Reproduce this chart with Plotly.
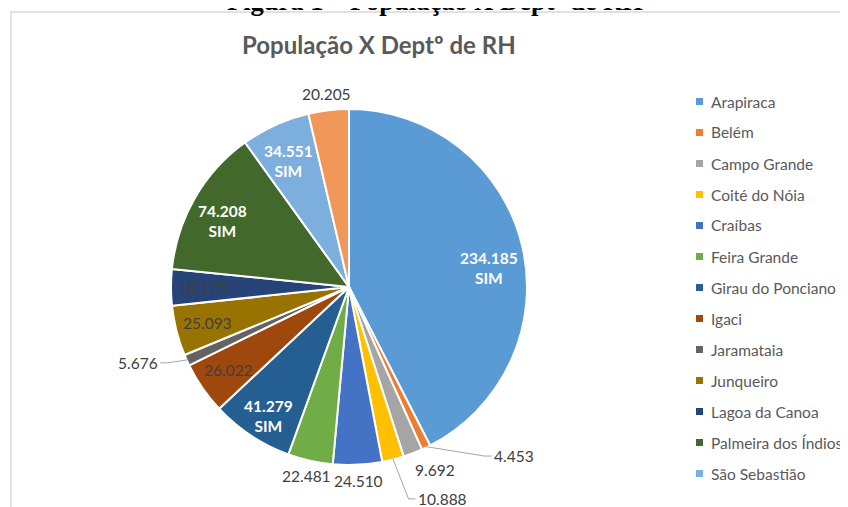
import math
import plotly.graph_objects as go

# ---------------- data ----------------
categories = ["Arapiraca", "Belém", "Campo Grande", "Coité do Nóia", "Craíbas",
              "Feira Grande", "Girau do Ponciano", "Igaci", "Jaramataia", "Junqueiro",
              "Lagoa da Canoa", "Palmeira dos Índios", "São Sebastião", "Taquarana"]
populacao = [234185, 4453, 9692, 10888, 24510, 22481, 41279, 26022, 5676, 25093,
             18175, 74208, 34551, 20205]
depto_rh = ["SIM", "", "", "", "", "", "SIM", "", "", "", "", "SIM", "SIM", ""]

# ---------------- style ----------------
colors = ["#5B9BD5", "#ED7D31", "#A5A5A5", "#FFC000", "#4472C4", "#70AD47", "#255E91",
          "#9E480E", "#636363", "#997300", "#264478", "#43682B", "#7CAFDD", "#F1975A"]
label_inside = [True, False, False, False, False, False, True, True, False, True,
                True, True, True, False]
# Excel moved a few crowded labels: (angle shift in deg, distance as multiple of radius, leader line)
label_moves = {"Belém": (-18.6, 1.326, True), "Campo Grande": (-4.2, 1.135, False),
               "Coité do Nóia": (-9.4, 1.30, True), "Jaramataia": (4.5, 1.258, True),
               "Arapiraca": (3.0, 0.80, False)}

VW, VH = 848, 507          # browser window
OFF = 8                    # body margin of the page
W, H = VW - OFF, VH - OFF  # figure size
FONT = "Lato"
LBL = 15.5
GRAY = "#404040"

# pie geometry in window pixels
CX, CY, R = 349, 287, 178


def px(wx):
    return (wx - OFF) / W


def py(wy):
    return 1 - (wy - OFF) / H


fig = go.Figure(go.Pie(
    labels=categories, values=populacao, sort=False, direction="clockwise",
    rotation=0, marker=dict(colors=colors, line=dict(color="white", width=2)),
    textinfo="none", showlegend=False, hoverinfo="label+value",
    domain=dict(x=[px(CX - R), px(CX + R)], y=[py(CY + R), py(CY - R)]),
))

# ---------------- data labels (placed at slice mid-angles) ----------------
total = sum(populacao)
cum = 0
for name, v, rh, inside in zip(categories, populacao, depto_rh, label_inside):
    mid = (cum + v / 2) / total * 360
    cum += v
    txt = f"{v:,}".replace(",", ".")
    ndig = sum(ch.isdigit() for ch in txt)
    tw = ndig * 0.58 * LBL + 0.27 * LBL
    if name in label_moves:
        shift, k, _ = label_moves[name]
        ang = mid + shift
        dist = k * R
    elif inside:
        dist = 0.82 * R
        ang = mid
    else:
        ang = mid
        dist = R + 16
    lx = CX + dist * math.sin(math.radians(ang))
    ly = CY - dist * math.cos(math.radians(ang))
    if rh:
        text = f"<b>{txt}<br>{rh}</b>"
        col = "white"
        ysh = -7
    else:
        text = txt
        col = GRAY
        ysh = 0
    fig.add_annotation(text=text, x=px(lx), y=py(ly), xref="paper", yref="paper",
                       xanchor="center", yanchor="middle", showarrow=False, yshift=ysh,
                       font=dict(family=FONT, size=LBL, color=col))
    if name in label_moves and label_moves[name][2]:
        ex0 = CX + (R - 1) * math.sin(math.radians(mid))
        ey0 = CY - (R - 1) * math.cos(math.radians(mid))
        side = 1 if lx > ex0 else -1
        ex = lx - side * (tw / 2 + 2)
        mx = ex - side * 7
        path = (f"M {px(ex0)} {py(ey0)} L {px(mx)} {py(ly)} L {px(ex)} {py(ly)}")
        fig.add_shape(type="path", xref="paper", yref="paper", path=path,
                      line=dict(color="#A6A6A6", width=1))

# ---------------- chart border ----------------
fig.add_shape(type="rect", xref="paper", yref="paper",
              x0=px(11), x1=1.1, y0=-0.1, y1=py(12),
              line=dict(color="#D9D9D9", width=1.5), fillcolor="rgba(0,0,0,0)", layer="below")

# ---------------- caption (cut by the top edge) ----------------
fig.add_annotation(text="<b>Figura 1 – População X Deptº de RH</b>", xref="paper", yref="paper",
                   x=px(435), y=py(1), xanchor="center", yanchor="middle", showarrow=False,
                   font=dict(family="Liberation Serif", size=26.5, color="black"))

# ---------------- chart title ----------------
fig.add_annotation(text="<b>População X Deptº de RH</b>", xref="paper", yref="paper",
                   x=px(378.5), y=py(45), xanchor="center", yanchor="middle", showarrow=False,
                   font=dict(family=FONT, size=24, color="#595959"))

# ---------------- legend (Excel-style: entries that do not fit are cut off) ----------------
top, step = 101.5, 31
for i, (c, col) in enumerate(zip(categories, colors)):
    yc = top + i * step
    if yc + 6 > VH:
        break
    fig.add_shape(type="rect", xref="paper", yref="paper",
                  x0=px(696), x1=px(703), y0=py(yc + 3.5), y1=py(yc - 3.5),
                  fillcolor=col, line=dict(width=0))
    fig.add_annotation(text=c, xref="paper", yref="paper", x=px(709), y=py(yc),
                       xanchor="left", yanchor="middle", showarrow=False,
                       font=dict(family=FONT, size=15.5, color="#595959"))

fig.update_layout(width=W, height=H, margin=dict(l=0, r=0, t=0, b=0),
                  paper_bgcolor="white", plot_bgcolor="white")
fig.write_html("out.html")
